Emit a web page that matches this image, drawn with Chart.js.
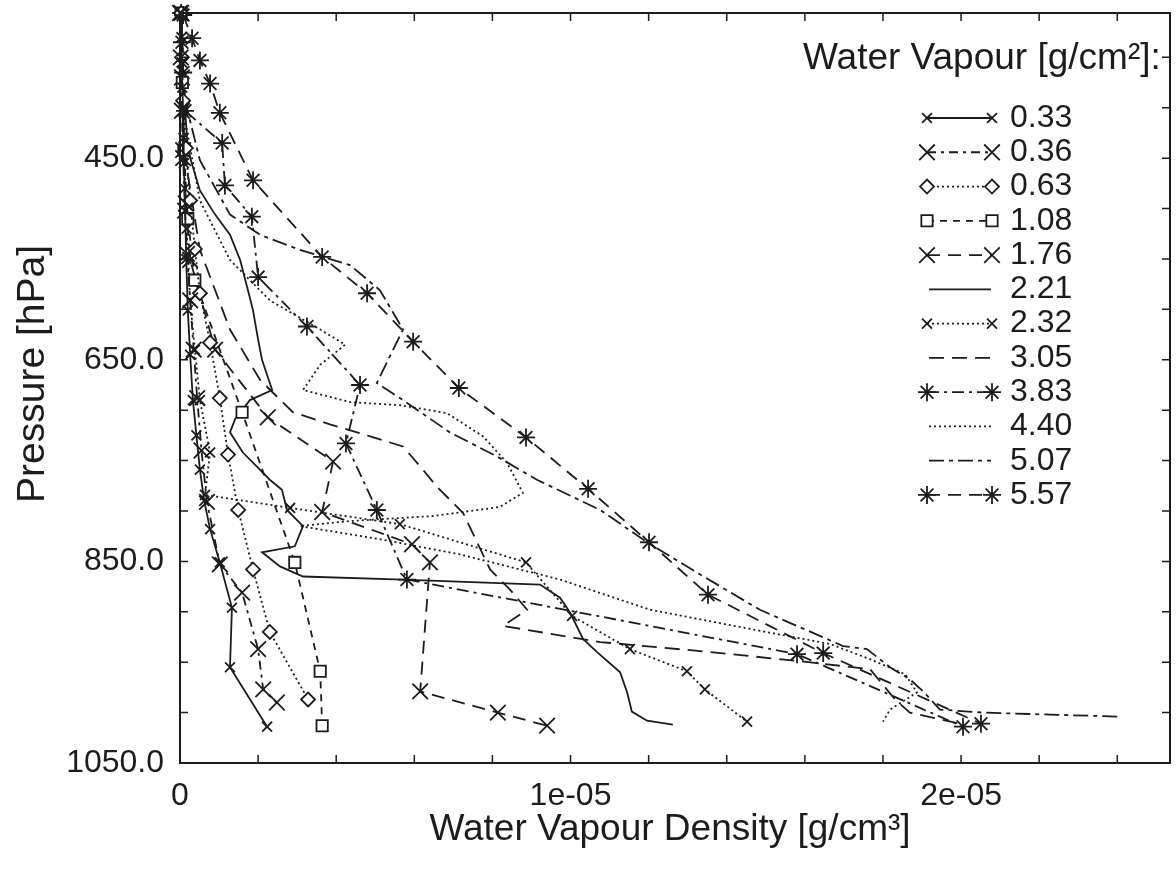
<!DOCTYPE html>
<html>
<head>
<meta charset="utf-8">
<title>Water vapour density profiles</title>
<script src="https://cdn.jsdelivr.net/npm/chart.js@4"></script>
<style>
  html, body { margin: 0; padding: 0; background: #fff; }
  #wrap { width: 1176px; height: 881px; }
</style>
</head>
<body>
<div id="wrap"><canvas id="chart" width="1176" height="881"></canvas></div>
<script>
// legend values (total water vapour, g/cm2)
const seriesLabels = ['0.33', '0.36', '0.63', '1.08', '1.76', '2.21', '2.32', '3.05', '3.83', '4.40', '5.07', '5.57'];

// pressure in hPa, density in 1e-6 g/cm3
const pres033 = [306, 330, 355, 380, 403, 430, 455, 480, 502, 550, 601, 645, 690, 725, 759, 790, 818, 851, 896, 955, 1014];
const dens033 = [0.03, 0.04, 0.05, 0.06, 0.08, 0.09, 0.10, 0.12, 0.13, 0.16, 0.20, 0.26, 0.33, 0.42, 0.51, 0.62, 0.77, 1.02, 1.33, 1.28, 2.23];

const pres036 = [306, 350, 403, 450, 502, 545, 591, 640, 688, 740, 791, 853, 881, 937, 977, 990];
const dens036 = [0.00, 0.02, 0.05, 0.08, 0.13, 0.18, 0.26, 0.35, 0.44, 0.55, 0.69, 1.02, 1.59, 2.00, 2.13, 2.48];

const pres063 = [306, 350, 393, 440, 492, 540, 584, 633, 688, 744, 799, 858, 920, 987];
const dens063 = [0.03, 0.05, 0.08, 0.15, 0.26, 0.38, 0.51, 0.77, 1.02, 1.23, 1.49, 1.87, 2.30, 3.28];

const pres108 = [306, 375, 442, 510, 571, 702, 851, 959, 1013];
const dens108 = [0.03, 0.06, 0.10, 0.20, 0.38, 1.59, 2.94, 3.59, 3.64];

const pres176 = [306, 370, 442, 495, 551, 640, 707, 751, 801, 833, 851, 979, 1000, 1013];
const dens176 = [0.03, 0.05, 0.08, 0.15, 0.26, 0.90, 2.25, 3.92, 3.64, 5.94, 6.40, 6.15, 8.14, 9.40];

const pres221 = [306, 373, 442, 482, 506, 526, 551, 581, 601, 630, 650, 680, 690, 709, 722, 742, 756, 769, 779, 799,
                 815, 835, 841, 855, 865, 868, 873, 886, 901, 927, 940, 960, 980, 999, 1008, 1012];
const dens221 = [0.03, 0.08, 0.20, 0.51, 0.90, 1.28, 1.54, 1.74, 1.87, 2.00, 2.10, 2.36, 1.79, 1.41, 1.28, 1.61, 1.97, 2.30, 2.61, 2.74,
                 3.15, 2.94, 2.10, 2.56, 3.15, 5.71, 9.22, 9.73, 9.99, 10.32, 10.68, 11.27, 11.45, 11.57, 11.96, 12.62];

const pres232 = [306, 370, 442, 520, 591, 640, 690, 742, 784, 797, 813, 851, 904, 937, 959, 977, 1009];
const dens232 = [0.03, 0.05, 0.10, 0.17, 0.26, 0.38, 0.51, 0.77, 0.64, 2.82, 5.63, 8.86, 10.04, 11.52, 12.98, 13.44, 14.52];

const pres305 = [306, 442, 541, 620, 670, 702, 714, 726, 736, 759, 776, 802, 858, 878, 898, 914, 930, 939, 949, 957, 987, 1000, 1011];
const dens305 = [0.03, 0.10, 0.51, 1.28, 2.05, 2.89, 3.84, 4.87, 5.71, 6.22, 6.58, 7.25, 7.94, 8.45, 8.89, 8.27, 10.76, 13.32, 15.88, 17.67, 18.31, 18.69, 19.97];

const pres383 = [306, 335, 365, 403, 435, 477, 508, 568, 617, 675, 733, 799, 868, 942, 1014];
const dens383 = [0.03, 0.05, 0.08, 0.13, 1.08, 1.15, 1.84, 2.00, 3.25, 4.61, 4.25, 5.04, 5.81, 15.80, 20.05];

const pres440 = [306, 412, 492, 551, 591, 620, 635, 655, 680, 692, 695, 703, 726, 752, 782, 796, 805, 810, 815, 828,
                 843, 868, 898, 917, 932, 947, 962, 980, 997, 1009];
const dens440 = [0.03, 0.13, 0.51, 1.28, 2.30, 3.59, 4.23, 3.59, 3.15, 4.35, 5.63, 6.84, 7.76, 8.37, 8.78, 8.19, 6.48, 4.35, 3.07, 5.12,
                 7.17, 9.73, 12.04, 14.60, 16.65, 17.67, 18.57, 18.87, 18.18, 18.00];

const pres507 = [306, 393, 452, 506, 526, 541, 556, 581, 620, 673, 690, 722, 746, 769, 799, 833, 863, 898, 934, 937,
                 955, 967, 979, 997, 1000, 1002, 1004];
const dens507 = [0.03, 0.13, 0.51, 1.28, 2.05, 3.07, 4.35, 5.12, 5.71, 5.04, 5.71, 6.91, 8.12, 9.14, 10.76, 12.04, 13.32, 14.85, 16.98, 17.59,
                 18.18, 18.69, 19.03, 19.46, 20.56, 22.28, 24.07];

const pres557 = [308, 331, 353, 376, 405, 472, 548, 584, 632, 678, 727, 778, 831, 883, 941, 1011];
const dens557 = [0.08, 0.31, 0.51, 0.77, 1.02, 1.87, 3.64, 4.79, 5.97, 7.14, 8.86, 10.45, 12.01, 13.52, 16.47, 20.51];

const pressures = [pres033, pres036, pres063, pres108, pres176, pres221, pres232, pres305, pres383, pres440, pres507, pres557];
const densities = [dens033, dens036, dens063, dens108, dens176, dens221, dens232, dens305, dens383, dens440, dens507, dens557];

// line look for each profile
const lineDash = [[], [9, 5, 3, 5], [2, 3], [7, 6], [13, 8], [], [2, 3], [15, 8], [12, 5, 3, 5], [2, 3], [15, 5, 4, 5], [13, 8]];
const markers = ['crossRot', 'crossRot', 'rectRot', 'rect', 'crossRot', false, 'crossRot', false, 'star', false, false, 'star'];
const markerSize = [7, 11, 7, 8, 11, 0, 7, 0, 9, 0, 0, 9];

const ink = '#1c1c1c';
const fontFamily = '"Liberation Sans", Arial, Helvetica, sans-serif';

const datasets = seriesLabels.map((lab, i) => ({
  label: lab,
  data: pressures[i].map((p, j) => ({ x: densities[i][j] * 1e-6, y: p })),
  showLine: true,
  borderColor: ink,
  borderWidth: 1.8,
  borderDash: lineDash[i],
  pointStyle: markers[i],
  pointRadius: markers[i] ? markerSize[i] : 0,
  pointHoverRadius: 0,
  pointBorderColor: ink,
  pointBackgroundColor: '#fff',
  pointBorderWidth: 1.8,
  tension: 0,
  clip: false
}));

// keep the plot box where it is in the picture
function fixBox(size, key) {
  return s => {
    s[key] = size;
    s.paddingTop = 0; s.paddingBottom = 0; s.paddingLeft = 0; s.paddingRight = 0;
  };
}

// frame, inward ticks, titles and the legend inside the plot
const decor = {
  id: 'decor',
  afterDraw(chart) {
    const { ctx, chartArea: a, scales: { x, y } } = chart;
    ctx.save();
    ctx.strokeStyle = ink;
    ctx.lineWidth = 2;
    ctx.setLineDash([]);
    ctx.strokeRect(a.left, a.top, a.right - a.left, a.bottom - a.top);

    ctx.lineWidth = 1.5;
    ctx.beginPath();
    x.ticks.forEach(t => {
      const px = x.getPixelForValue(t.value);
      ctx.moveTo(px, a.bottom); ctx.lineTo(px, a.bottom - 8);
      ctx.moveTo(px, a.top); ctx.lineTo(px, a.top + 8);
    });
    y.ticks.forEach(t => {
      const py = y.getPixelForValue(t.value);
      ctx.moveTo(a.left, py); ctx.lineTo(a.left + 8, py);
      ctx.moveTo(a.right, py); ctx.lineTo(a.right - 8, py);
    });
    ctx.stroke();

    // axis titles
    ctx.fillStyle = ink;
    ctx.textAlign = 'center';
    ctx.textBaseline = 'middle';
    ctx.font = '37px ' + fontFamily;
    ctx.fillText('Water Vapour Density [g/cm\u00b3]', 670, 830);
    ctx.save();
    ctx.translate(33, 374);
    ctx.rotate(-Math.PI / 2);
    ctx.font = '39px ' + fontFamily;
    ctx.fillText('Pressure [hPa]', 0, 0);
    ctx.restore();

    // legend
    ctx.textAlign = 'left';
    ctx.font = '37px ' + fontFamily;
    ctx.fillText('Water Vapour [g/cm\u00b2]:', 803, 59);
    ctx.font = '32px ' + fontFamily;
    chart.data.datasets.forEach((ds, i) => {
      const yy = 118 + i * 34.27;
      const x1 = ds.pointRadius ? 927 : 929;
      const x2 = ds.pointRadius ? 992 : 991;
      ctx.lineWidth = ds.borderWidth;
      ctx.setLineDash(ds.borderDash);
      ctx.beginPath();
      ctx.moveTo(x1, yy); ctx.lineTo(x2, yy);
      ctx.stroke();
      ctx.setLineDash([]);
      if (ds.pointRadius && Chart.helpers && Chart.helpers.drawPoint) {
        ctx.fillStyle = '#fff';
        ctx.lineWidth = ds.pointBorderWidth;
        [x1, x2].forEach(px => Chart.helpers.drawPoint(ctx, {
          pointStyle: ds.pointStyle, radius: ds.pointRadius, borderWidth: ds.pointBorderWidth, rotation: 0
        }, px, yy));
      }
      ctx.fillStyle = ink;
      ctx.fillText(ds.label, 1010, yy);
    });
    ctx.restore();
  }
};

Chart.defaults.font.family = fontFamily;
Chart.defaults.color = ink;

new Chart(document.getElementById('chart'), {
  type: 'scatter',
  data: { datasets },
  options: {
    responsive: false,
    animation: false,
    devicePixelRatio: 1,
    layout: { autoPadding: false, padding: { left: 0, right: 6, top: 13, bottom: 0 } },
    plugins: { legend: { display: false }, tooltip: { enabled: false } },
    scales: {
      x: {
        type: 'linear', min: 0, max: 2.535e-5,
        grid: { display: false, drawTicks: false }, border: { display: false },
        ticks: {
          stepSize: 2e-6, includeBounds: false, autoSkip: false, maxRotation: 0, padding: 0,
          font: { size: 32, lineHeight: 2.06 }, color: ink,
          callback: v => {
            const n = Math.round(v * 1e6);
            if (n === 0) return '0';
            return n % 10 === 0 ? (n / 10) + 'e-05' : '';
          }
        },
        afterFit: fixBox(118, 'height')
      },
      y: {
        type: 'linear', reverse: true, min: 306, max: 1050,
        grid: { display: false, drawTicks: false }, border: { display: false },
        ticks: {
          stepSize: 50, includeBounds: false, autoSkip: false, padding: 16,
          font: { size: 32 }, color: ink,
          callback: v => ((v - 450) % 200 === 0 ? v.toFixed(1) : '')
        },
        afterFit: fixBox(180, 'width')
      }
    }
  },
  plugins: [decor]
});
</script>
</body>
</html>
